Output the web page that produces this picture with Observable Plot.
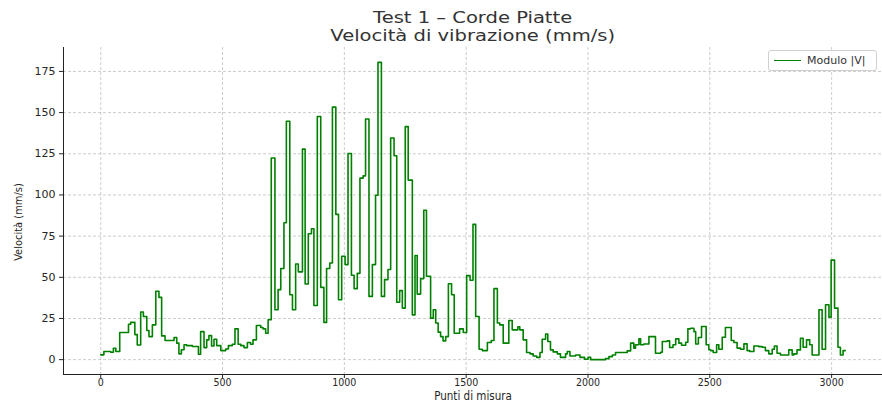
<!DOCTYPE html>
<html>
<head>
<meta charset="utf-8">
<script src="https://cdn.jsdelivr.net/npm/d3@7"></script>
<script src="https://cdn.jsdelivr.net/npm/@observablehq/plot@0.6"></script>
<style>
  body { margin: 0; background: #fff; font-family: "DejaVu Sans", sans-serif; }
  #wrap { position: relative; width: 882px; height: 411px; overflow: hidden; }
  #title { height: 44px; width: 819px; margin-left: 63px; padding-top: 9px; box-sizing: border-box;
           text-align: center; font-size: 16px; line-height: 18px; color: #333; }
  #title span { display: inline-block; transform: scaleX(1.22); transform-origin: center; }
  #chart svg { display: block; }
  #legend { position: absolute; left: 768px; top: 50px; width: 107px; height: 19px;
            border: 1px solid #d0d0d0; border-radius: 3px; background: rgba(255,255,255,0.85);
            font-size: 11px; color: #333; }
  #legend .sw { position: absolute; left: 5px; top: 9px; width: 27px; height: 0; border-top: 1.6px solid green; }
  #legend .lb { position: absolute; left: 38px; top: 3px; }
</style>
</head>
<body>
<div id="wrap">
  <div id="title"><span>Test 1 – Corde Piatte</span><br><span>Velocità di vibrazione (mm/s)</span></div>
  <div id="chart"></div>
  <div id="legend"><div class="sw"></div><div class="lb">Modulo |V|</div></div>
</div>
<script>
// Punti di misura (inizio di ogni gradino) e velocità (mm/s)
const punti = [
  0, 13, 41, 52, 62, 78, 114, 123, 140, 150, 164, 175, 189, 198, 212, 226, 239, 250, 264, 301,
  312, 321, 331, 342, 353, 376, 401, 410, 424, 435, 444, 455, 465, 476, 493, 513, 524, 540, 551, 564,
  575, 588, 602, 615, 625, 639, 657, 666, 677, 687, 700, 715, 728, 739, 752, 762, 776, 787, 800, 811,
  828, 839, 852, 865, 875, 889, 903, 916, 927, 940, 951, 965, 976, 989, 1003, 1015, 1029, 1040, 1053, 1064,
  1077, 1087, 1101, 1115, 1128, 1138, 1152, 1165, 1179, 1190, 1204, 1215, 1227, 1238, 1250, 1262, 1279, 1290, 1299, 1313,
  1326, 1337, 1354, 1365, 1375, 1385, 1395, 1405, 1416, 1427, 1440, 1451, 1473, 1488, 1502, 1516, 1528, 1539, 1553, 1566,
  1587, 1603, 1614, 1628, 1638, 1652, 1675, 1689, 1712, 1720, 1734, 1748, 1762, 1775, 1789, 1803, 1812, 1826, 1835, 1846,
  1857, 1874, 1887, 1908, 1915, 1926, 1949, 1967, 1986, 2000, 2011, 2072, 2086, 2100, 2113, 2161, 2175, 2188, 2195, 2209,
  2216, 2229, 2250, 2277, 2298, 2305, 2325, 2335, 2349, 2360, 2373, 2384, 2401, 2410, 2421, 2435, 2442, 2453, 2466, 2485,
  2496, 2503, 2514, 2528, 2537, 2551, 2564, 2588, 2599, 2612, 2626, 2640, 2653, 2664, 2681, 2701, 2715, 2728, 2742, 2756,
  2765, 2776, 2790, 2824, 2838, 2845, 2858, 2872, 2883, 2897, 2910, 2920, 2948, 2961, 2975, 2989, 2998, 3012, 3026, 3036,
  3047, 3056
];
const velocita = [
  2.9, 4.9, 4.5, 6.9, 4.9, 16.5, 21.5, 22.6, 15.2, 8.9, 28.9, 26.2, 17.7, 14, 21.1, 41.5, 37.8, 14.4, 11.6, 13.4,
  10, 3.5, 6, 9, 8.5, 8, 3.3, 17, 7.3, 12, 14.6, 8.3, 12.4, 8.5, 5.5, 6.5, 8.5, 9.3, 18.7, 9.3,
  8.5, 7.3, 10.4, 9.3, 12, 20.7, 19.5, 18.7, 16, 24.2, 122.4, 30.3, 42.5, 55.3, 83.1, 144.7, 39.4, 30.3, 58.1, 53.3,
  127.8, 45.9, 76.4, 79.5, 32.9, 147.6, 43.9, 22.6, 55.3, 58.7, 153.3, 88.2, 36.4, 62.8, 57.7, 125.2, 51.2, 43.1, 52.4, 110.2,
  111.6, 146.1, 38.4, 57.7, 99.8, 180.5, 38.4, 48.6, 54.7, 134.6, 123.8, 34.8, 41.9, 31.3, 141.5, 109, 27.2, 63.2, 39.8, 49.2,
  90.7, 50.6, 25.2, 30.3, 22.2, 16.7, 14, 11.4, 14, 46.1, 39.4, 16, 18.7, 16.5, 51, 48.2, 82.1, 26.2, 6.3, 5.5,
  10.4, 11.6, 43.1, 22.2, 21.1, 10, 23.8, 18.1, 20, 18.1, 12, 4.3, 3.5, 2.2, 1.4, 4.3, 12.4, 15.6, 11, 5.9,
  4.7, 3.5, 1.4, 3.5, 4.9, 2.2, 2.8, 1.4, 0.2, 1.4, 0, 0.6, 1.8, 2.8, 4.3, 5.3, 10, 7, 9, 12.6,
  9, 9.5, 14, 3.9, 4.5, 11, 11.4, 7.4, 9, 12.6, 10, 8.7, 10.6, 18.7, 19.1, 17, 9.5, 13.4, 20.1, 9,
  6, 5.5, 4.3, 9, 6.3, 13.6, 19.5, 11.6, 10.4, 7, 6.3, 9.6, 5.5, 4.9, 8.3, 7.9, 7.5, 5.5, 3.5, 6.3,
  8.3, 3.9, 2.8, 5.9, 2.8, 3.5, 5.9, 13, 7.5, 12, 9, 2.8, 30.3, 6.3, 33.3, 25.8, 60.4, 31.3, 7.5, 2.8,
  5.5, 5.5
];
const xTicks = [0, 500, 1000, 1500, 2000, 2500, 3000];
const yTicks = [0, 25, 50, 75, 100, 125, 150, 175];
const titoloX = "Punti di misura";
const titoloY = "Velocità (mm/s)";

const data = punti.map((p, i) => ({x: p, y: velocita[i]}));

// matplotlib-like 5% margins
const xmin = d3.min(punti), xmax = d3.max(punti);
const ymin = d3.min(velocita), ymax = d3.max(velocita);
const xDom = [xmin - 0.05 * (xmax - xmin), xmax + 0.05 * (xmax - xmin)];
const yDom = [ymin - 0.05 * (ymax - ymin), ymax + 0.05 * (ymax - ymin)];

const gridStyle = {stroke: "#b0b0b0", strokeOpacity: 0.8, strokeDasharray: "3,2", strokeWidth: 0.8};

const chart = Plot.plot({
  width: 882,
  height: 367,
  marginTop: 3,
  marginBottom: 37,
  marginLeft: 63,
  marginRight: 0,
  style: {fontFamily: "DejaVu Sans", fontSize: "11px", color: "#262626", background: "#fff"},
  x: {domain: xDom},
  y: {domain: yDom},
  marks: [
    Plot.gridX(xTicks, gridStyle),
    Plot.gridY(yTicks, gridStyle),
    Plot.line(data, {x: "x", y: "y", curve: "step-after", stroke: "green", strokeWidth: 1.6}),
    Plot.ruleX([xDom[0]], {stroke: "#222", strokeWidth: 1}),
    Plot.ruleY([yDom[0]], {stroke: "#222", strokeWidth: 1}),
    Plot.axisX(xTicks, {tickSize: 4, tickPadding: 0, label: null, tickFormat: d => String(d),
                        fontFamily: "DejaVu Sans Condensed, DejaVu Sans", fontSize: 10.5}),
    Plot.axisY(yTicks, {tickSize: 4, tickPadding: 4, label: null, tickFormat: d => String(d), fontSize: 11}),
    Plot.text([titoloX], {frameAnchor: "bottom", dy: 25, fontSize: 11.5, fill: "#262626",
                          fontFamily: "DejaVu Sans Condensed, DejaVu Sans"}),
    Plot.text([titoloY], {frameAnchor: "left", dx: -45, dy: 11, rotate: -90, textAnchor: "middle", fontSize: 11,
                          fill: "#262626", fontFamily: "DejaVu Sans Condensed, DejaVu Sans"})
  ]
});
document.getElementById("chart").appendChild(chart);
</script>
</body>
</html>
